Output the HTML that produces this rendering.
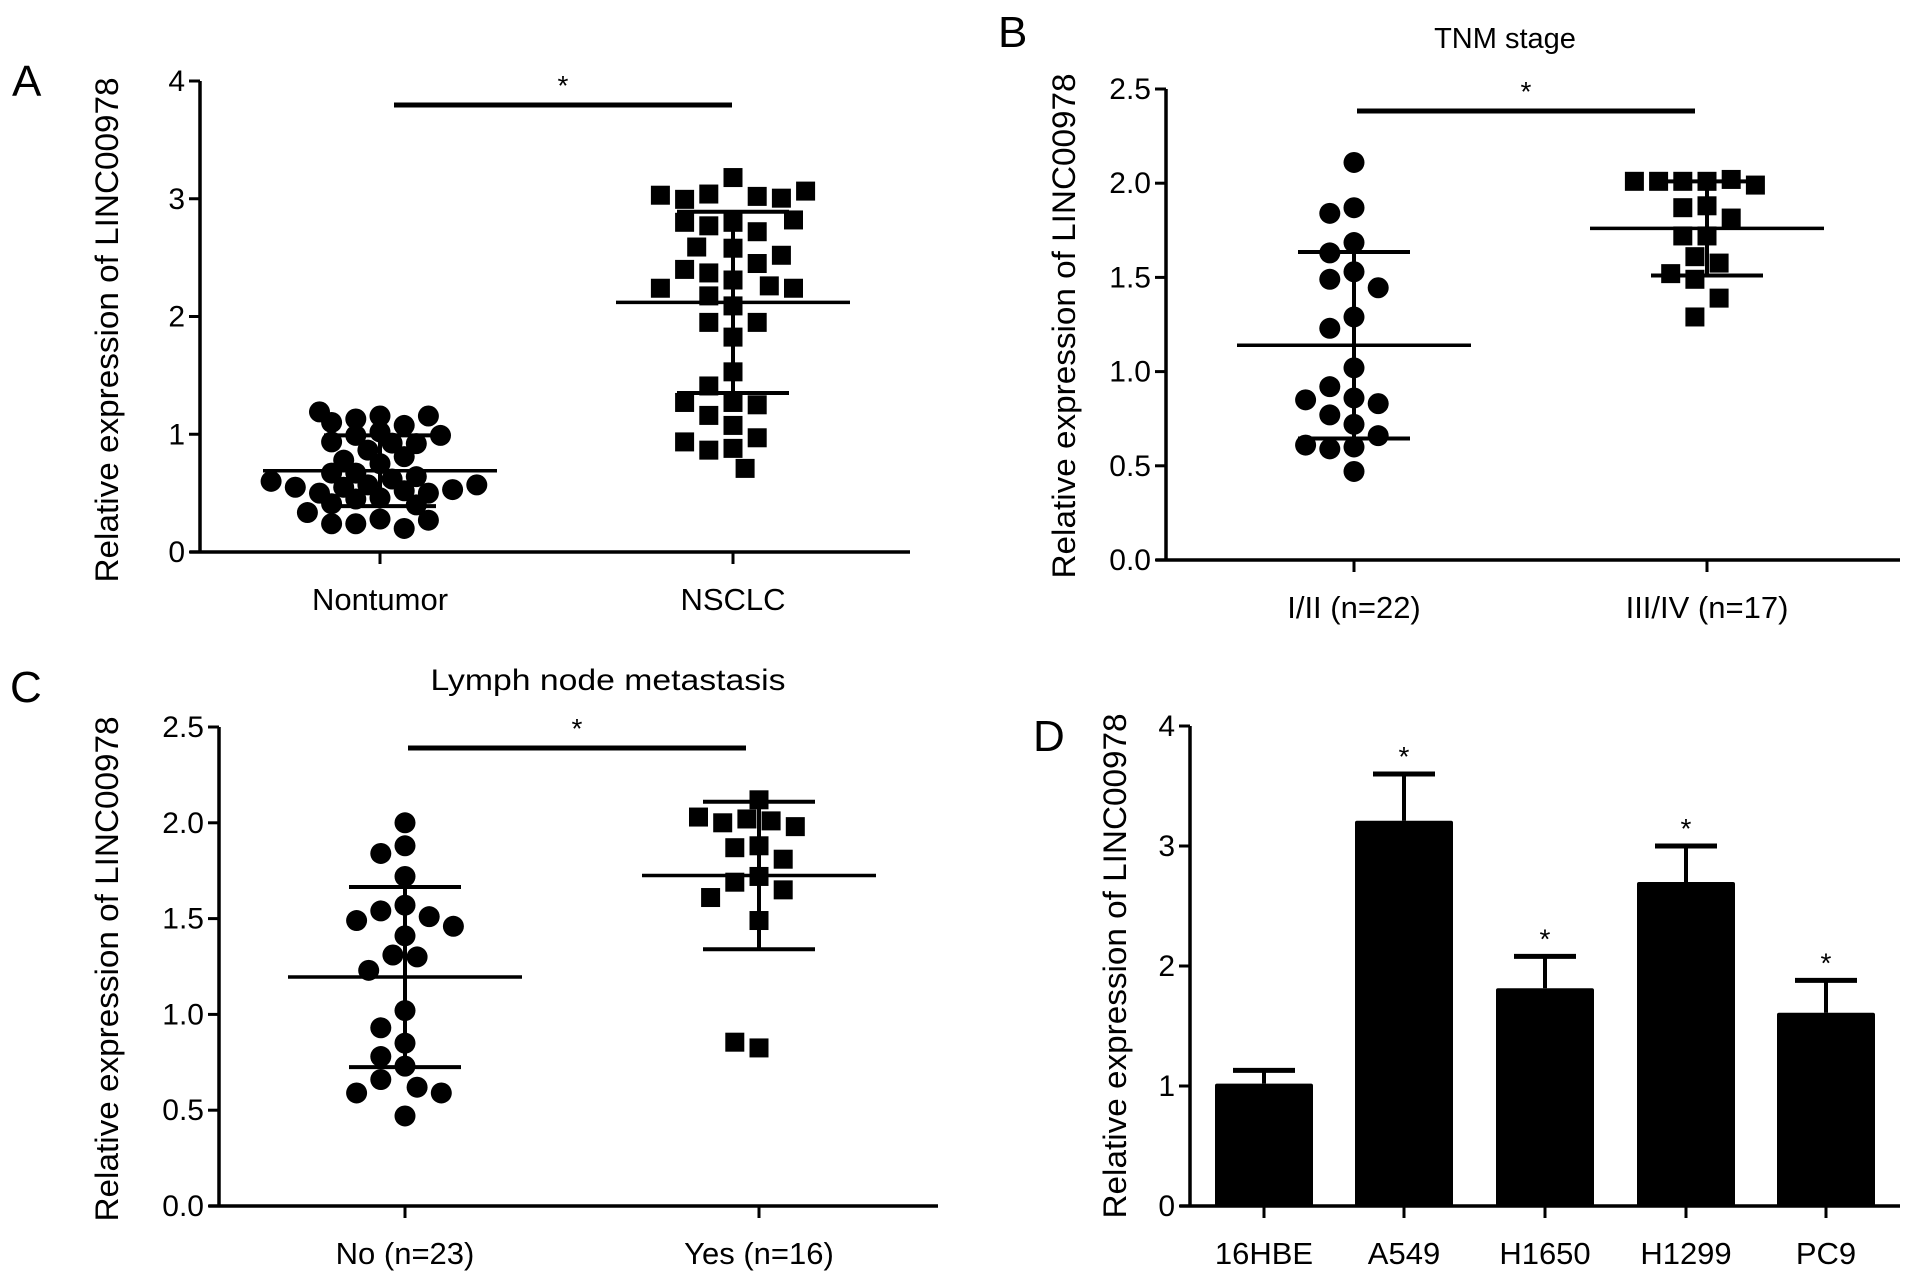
<!DOCTYPE html>
<html><head><meta charset="utf-8"><style>
html,body{margin:0;padding:0;background:#fff;}
svg{display:block;font-family:"Liberation Sans",Arial,sans-serif;}
</style></head><body>
<svg id="fig" width="1913" height="1271" viewBox="0 0 1913 1271" xmlns="http://www.w3.org/2000/svg"></svg>
<script>
// ---------- Panel A data ----------
const aCategories = ["Nontumor", "NSCLC"];
const aTicks = ["0","1","2","3","4"];
const aNontumor = [1.155,1.13,1.075,1.02,1.10,1.155,1.19,0.99,0.925,0.92,0.865,0.935,0.99,0.81,0.75,0.78,0.67,0.62,0.57,0.55,0.52,0.50,0.46,0.45,0.50,0.53,0.55,0.57,0.60,0.64,0.67,0.40,0.41,0.28,0.24,0.20,0.24,0.27,0.335];
const aNSCLC = [3.18,3.04,3.02,2.995,3.005,3.03,3.065,2.80,2.77,2.72,2.80,2.82,2.58,2.59,2.45,2.52,2.31,2.37,2.40,2.26,2.24,2.24,2.175,2.09,1.95,1.95,1.825,1.53,1.41,1.27,1.25,1.27,1.16,1.075,0.97,0.88,0.865,0.935,0.71];
const aMean = [0.69, 2.12];
const aSD = [0.30, 0.77];
// ---------- Panel B data ----------
const bCategories = ["I/II (n=22)", "III/IV (n=17)"];
const bTicks = ["0.0","0.5","1.0","1.5","2.0","2.5"];
const bEarly = [2.11,1.87,1.84,1.685,1.63,1.53,1.49,1.445,1.29,1.23,1.02,0.92,0.86,0.83,0.77,0.72,0.66,0.60,0.59,0.61,0.47,0.85];
const bLate = [2.01,2.01,2.02,2.01,1.99,2.01,1.88,1.87,1.815,1.72,1.72,1.61,1.576,1.52,1.49,1.39,1.29];
const bMean = [1.14, 1.76];
const bSD = [0.495, 0.25];
// ---------- Panel C data ----------
const cCategories = ["No (n=23)", "Yes (n=16)"];
const cTicks = ["0.0","0.5","1.0","1.5","2.0","2.5"];
const cNo = [2.0,1.88,1.84,1.72,1.57,1.54,1.51,1.49,1.46,1.41,1.31,1.30,1.23,1.02,0.93,0.85,0.78,0.73,0.66,0.62,0.59,0.59,0.47];
const cYes = [2.12,2.02,2.01,2.0,1.98,2.03,1.88,1.87,1.81,1.72,1.69,1.65,1.61,1.49,0.825,0.855];
const cMean = [1.195, 1.725];
const cSD = [0.47, 0.385];
// ---------- Panel D data ----------
const dCategories = ["16HBE","A549","H1650","H1299","PC9"];
const dTicks = ["0","1","2","3","4"];
const dValues = [1.02, 3.21, 1.815, 2.70, 1.61];
const dErrors = [0.11, 0.39, 0.265, 0.30, 0.27];
const dSig = [false, true, true, true, true];

const NS = "http://www.w3.org/2000/svg";
const svg = document.getElementById("fig");
function mk(tag, attrs, parent) {
  const e = document.createElementNS(NS, tag);
  for (const k in attrs) e.setAttribute(k, attrs[k]);
  (parent || svg).appendChild(e);
  return e;
}
function txt(s, x, y, size, anchor, parent) {
  const t = mk("text", {x: x, y: y, "font-size": size, "text-anchor": anchor || "middle", fill: "#000"}, parent);
  t.textContent = s;
  return t;
}

function axes(g, P) {
  const yS = v => P.y0 - (v - P.vmin) / (P.vmax - P.vmin) * (P.y0 - P.yTop);
  const ya = mk("line", {x1: P.ax, y1: P.yTop, x2: P.ax, y2: P.y0 + 1.5, stroke: "#000", "stroke-width": 3.5}, g);
  
  
  const xa = mk("line", {x1: P.ax - 10, y1: P.y0, x2: P.xEnd, y2: P.y0, stroke: "#000", "stroke-width": 3.5}, g);
  
  
  P.ticks.forEach((lab, i) => {
    const v = P.vmin + i * (P.vmax - P.vmin) / (P.ticks.length - 1);
    const y = yS(v);
    const tk = mk("line", {x1: P.ax - 11, y1: y, x2: P.ax, y2: y, stroke: "#000", "stroke-width": 3}, g);
    
    
    const t = txt(lab, P.ax - 15, y + 10, 30, "end", g);
    
    
  });
  P.cats.forEach((c, i) => {
    const x = P.cx[i];
    const tk = mk("line", {x1: x, y1: P.y0, x2: x, y2: P.y0 + 12, stroke: "#000", "stroke-width": 3}, g);
    
    
    const t = txt(c, x, P.y0 + 58, 31, "middle", g);
    
    
  });
  const yt = txt("Relative expression of LINC00978", 0, 0, 32, "middle", g);
  yt.setAttribute("transform", "translate(" + P.titleX + "," + P.titleY + ") rotate(-90)");
  yt.setAttribute("textLength", 505);
  yt.setAttribute("lengthAdjust", "spacingAndGlyphs");
  
  
  return yS;
}

function swarm(vals, yS, cx, d, tight) {
  const placed = [];
  return vals.map(v => {
    const y = yS(v);
    let x = cx;
    for (let k = 0; k < 40; k++) {
      const off = Math.ceil(k / 2) * d * 0.55 * (k % 2 ? -1 : 1);
      const cand = cx + off;
      if (placed.every(p => Math.hypot(p[0] - cand, p[1] - y) >= d * tight)) { x = cand; break; }
    }
    placed.push([x, y]);
    return [x, y];
  });
}

function scatterPanel(g, P, groups, means, sds, shapes) {
  const yS = axes(g, P);
  groups.forEach((vals, gi) => {
    const pts = swarm(vals, yS, P.cx[gi], 22, P.tight[gi]);
    pts.forEach(p => {
      let m;
      if (shapes[gi] === "circle") m = mk("circle", {cx: p[0], cy: p[1], r: 10.5, fill: "#000"}, g);
      else m = mk("rect", {x: p[0] - 9.5, y: p[1] - 9.5, width: 19, height: 19, fill: "#000"}, g);
      
      
    });
    const cx = P.cx[gi];
    const my = yS(means[gi]), hi = yS(means[gi] + sds[gi]), lo = yS(means[gi] - sds[gi]);
    const ml = mk("line", {x1: cx - 117, y1: my, x2: cx + 117, y2: my, stroke: "#000", "stroke-width": 3.5}, g);
    
    
    const vl = mk("line", {x1: cx, y1: hi, x2: cx, y2: lo, stroke: "#000", "stroke-width": 4}, g);
    
    
    [hi, lo].forEach(y => {
      const c = mk("line", {x1: cx - 56, y1: y, x2: cx + 56, y2: y, stroke: "#000", "stroke-width": 4}, g);
      
      
    });
  });
  const sb = mk("line", {x1: P.sig[0], y1: P.sig[2], x2: P.sig[1], y2: P.sig[2], stroke: "#000", "stroke-width": 5}, g);
  
  
  const st = txt("*", (P.sig[0] + P.sig[1]) / 2, P.sig[2] - 10, 28, "middle", g);
  
  
}

function letter(s, x, y) {
  const t = txt(s, x, y, 44, "start");
  
  
}

// Panel A
const gA = mk("g", {});


scatterPanel(gA, {ax: 200, y0: 552, yTop: 81, vmin: 0, vmax: 4, xEnd: 910, cx: [380, 733], cats: aCategories, ticks: aTicks, titleX: 118, titleY: 330, sig: [394, 732, 105], tight: [0.72, 1.02]}, [aNontumor, aNSCLC], aMean, aSD, ["circle", "square"]);
letter("A", 12, 96);

// Panel B
const gB = mk("g", {});


scatterPanel(gB, {ax: 1166, y0: 560, yTop: 89, vmin: 0, vmax: 2.5, xEnd: 1900, cx: [1354, 1707], cats: bCategories, ticks: bTicks, titleX: 1075, titleY: 326, sig: [1357, 1695, 111], tight: [1.02, 1.02]}, [bEarly, bLate], bMean, bSD, ["circle", "square"]);
letter("B", 998, 47);
const tB = txt("TNM stage", 1505, 48, 29, "middle");



// Panel C
const gC = mk("g", {});


scatterPanel(gC, {ax: 219, y0: 1206, yTop: 727, vmin: 0, vmax: 2.5, xEnd: 938, cx: [405, 759], cats: cCategories, ticks: cTicks, titleX: 118, titleY: 969, sig: [408, 746, 748], tight: [1.02, 1.02]}, [cNo, cYes], cMean, cSD, ["circle", "square"]);
letter("C", 10, 702);
const tC = txt("Lymph node metastasis", 608, 690, 30, "middle");
tC.setAttribute("textLength", 355);
tC.setAttribute("lengthAdjust", "spacingAndGlyphs");



// Panel D
const gD = mk("g", {});


const PD = {ax: 1190, y0: 1206, yTop: 726, vmin: 0, vmax: 4, xEnd: 1900, cx: [1264, 1404, 1545, 1686, 1826], cats: dCategories, ticks: dTicks, titleX: 1126, titleY: 966};
const yD = axes(gD, PD);
dValues.forEach((v, i) => {
  const cx = PD.cx[i], top = yD(v), et = yD(v + dErrors[i]);
  const ev = mk("line", {x1: cx, y1: top, x2: cx, y2: et, stroke: "#000", "stroke-width": 4}, gD);
  
  
  const ec = mk("line", {x1: cx - 31, y1: et, x2: cx + 31, y2: et, stroke: "#000", "stroke-width": 5}, gD);
  
  
  const b = mk("rect", {x: cx - 49, y: top, width: 98, height: PD.y0 - top, fill: "#000", rx: 2}, gD);
  
  
  if (dSig[i]) {
    const s = txt("*", cx, et - 8, 28, "middle", gD);
    
    
  }
});
letter("D", 1033, 751);
</script>
</body></html>
